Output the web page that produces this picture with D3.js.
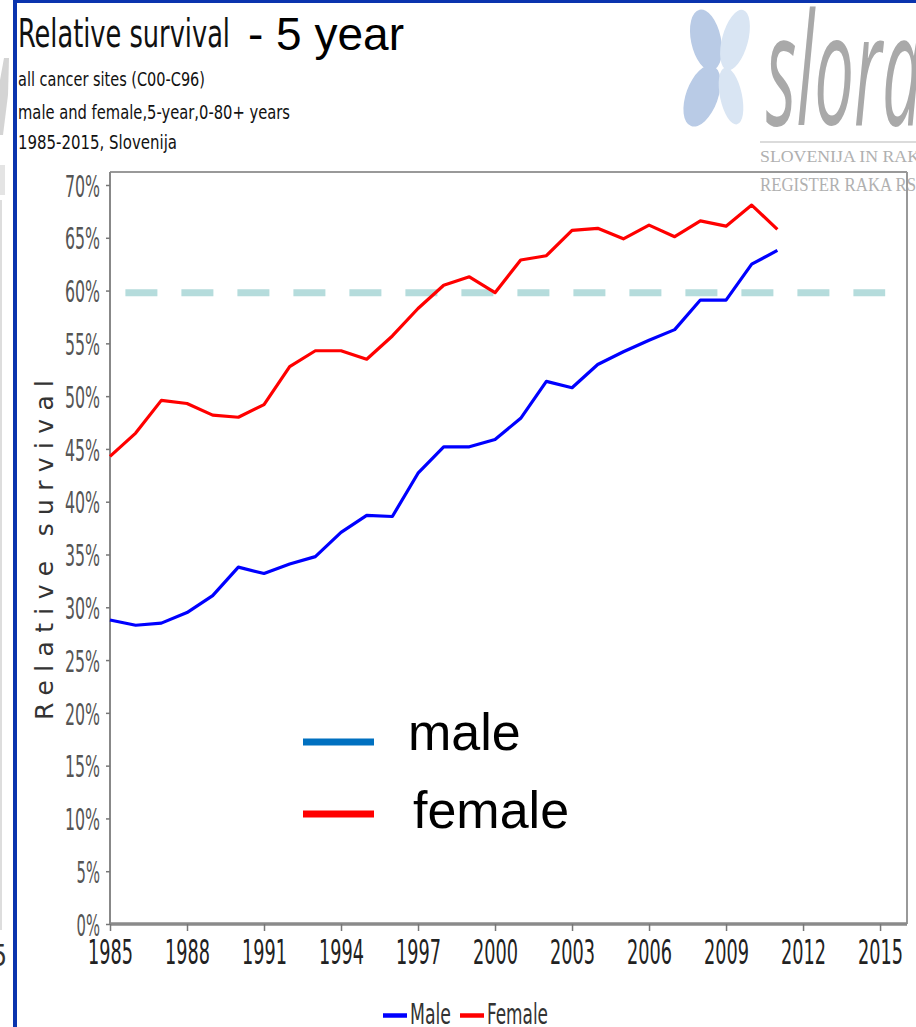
<!DOCTYPE html>
<html>
<head>
<meta charset="utf-8">
<script src="https://cdn.jsdelivr.net/npm/d3@7"></script>
<style>
  html, body { margin: 0; padding: 0; background: #fff; }
  svg { display: block; }
</style>
</head>
<body>
<svg id="chart" width="916" height="1027"></svg>
<script>
// ---------------- DATA ----------------
const years = [1985,1986,1987,1988,1989,1990,1991,1992,1993,1994,1995,1996,1997,1998,1999,2000,2001,2002,2003,2004,2005,2006,2007,2008,2009,2010,2011];
const male   = [28.8,28.3,28.5,29.5,31.1,33.8,33.2,34.1,34.8,37.1,38.7,38.6,42.7,45.2,45.2,45.9,47.9,51.4,50.8,53.0,54.2,55.3,56.3,59.1,59.1,62.5,63.8];
const female = [44.3,46.5,49.6,49.3,48.2,48.0,49.2,52.8,54.3,54.3,53.5,55.7,58.3,60.5,61.3,59.8,62.9,63.3,65.7,65.9,64.9,66.2,65.1,66.6,66.1,68.1,65.8];
const referenceValue = 59.8;
const referenceSpan = [1985.6, 2015.2];
const yTicks = [0,5,10,15,20,25,30,35,40,45,50,55,60,65,70];
const xTicks = [1985,1988,1991,1994,1997,2000,2003,2006,2009,2012,2015];
const titleMain = "Relative survival";
const titleSuffix = "- 5 year";
const subtitles = ["all cancer sites (C00-C96)", "male and female,5-year,0-80+ years", "1985-2015,  Slovenija"];
const yAxisTitle = "Relative survival";
const seriesNames = ["Male", "Female"];
const overlayNames = ["male", "female"];

// ---------------- LAYOUT ----------------
const svg = d3.select("#chart");
const plot = { left: 110, right: 907, top: 172, bottom: 924 };
const x = d3.scaleLinear().domain([1985, 2016.05]).range([plot.left, plot.right]);
const y = d3.scaleLinear().domain([0, 70]).range([plot.bottom, 185]);
const condensed = "'DejaVu Sans Condensed', 'DejaVu Sans', sans-serif";

svg.append("rect").attr("width", 916).attr("height", 1027).attr("fill", "#fff");

// remnants of previous slide at the far left
svg.append("path").attr("d", "M4,58 L9,58 L8,95 L3,135 L0,135 L0,80 Z").attr("fill", "#cfcfcf").attr("opacity", 0.9);
svg.append("rect").attr("x", 0).attr("y", 165).attr("width", 5).attr("height", 30).attr("fill", "#e4e4e4");
svg.append("line").attr("x1", 1).attr("x2", 1).attr("y1", 200).attr("y2", 930).attr("stroke", "#d2d2d2").attr("stroke-width", 1.5);
svg.append("text").attr("x", -8).attr("y", 966).attr("font-family", condensed).attr("font-size", 30)
  .attr("fill", "#333").attr("textLength", 15).attr("lengthAdjust", "spacingAndGlyphs").text("5");

// blue slide frame
svg.append("rect").attr("x", 13).attr("y", 0).attr("width", 4).attr("height", 1027).attr("fill", "#0a34ae");
svg.append("rect").attr("x", 13).attr("y", 0).attr("width", 903).attr("height", 3).attr("fill", "#0a34ae");

// ---------------- LOGO ----------------
const logo = svg.append("g");
logo.append("ellipse").attr("rx", 15).attr("ry", 31)
  .attr("transform", "translate(706,40) rotate(-12)").attr("fill", "#b9cbe6");
logo.append("ellipse").attr("rx", 13).attr("ry", 31)
  .attr("transform", "translate(735,40) rotate(15)").attr("fill", "#d9e5f3");
logo.append("ellipse").attr("rx", 16).attr("ry", 32)
  .attr("transform", "translate(702,96) rotate(20)").attr("fill", "#b9cbe6");
logo.append("ellipse").attr("rx", 11).attr("ry", 29)
  .attr("transform", "translate(731,96) rotate(-12)").attr("fill", "#d9e5f3");
logo.append("text").attr("x", 766).attr("y", 125).attr("font-family", "'Open Sans', sans-serif")
  .attr("font-style", "italic").attr("font-weight", 400).attr("font-size", 156).attr("fill", "#a9a9a9")
  .attr("textLength", 156).attr("lengthAdjust", "spacingAndGlyphs").text("slora");
logo.append("line").attr("x1", 760).attr("x2", 916).attr("y1", 142).attr("y2", 142).attr("stroke", "#cfcfcf").attr("stroke-width", 1.5);
logo.append("text").attr("x", 760).attr("y", 162).attr("font-family", "'Liberation Serif', 'DejaVu Serif', serif")
  .attr("font-size", 17).attr("fill", "#b0b0b0").attr("textLength", 160).attr("lengthAdjust", "spacingAndGlyphs").text("SLOVENIJA IN RAK");
logo.append("text").attr("x", 760).attr("y", 191).attr("font-family", "'Liberation Serif', 'DejaVu Serif', serif")
  .attr("font-size", 19).attr("fill", "#b0b0b0").attr("textLength", 156).attr("lengthAdjust", "spacingAndGlyphs").text("REGISTER RAKA RS");

// ---------------- TITLES ----------------
svg.append("text").attr("x", 18).attr("y", 47).attr("font-family", condensed).attr("font-size", 39)
  .attr("fill", "#111").attr("textLength", 212).attr("lengthAdjust", "spacingAndGlyphs").text(titleMain);
svg.append("text").attr("x", 248).attr("y", 50).attr("font-family", "'Liberation Sans', Arial, sans-serif")
  .attr("font-size", 46).attr("fill", "#000").text(titleSuffix);
const subY = [86, 119, 149];
const subW = [187, 272, 159];
subtitles.forEach((s, i) => {
  svg.append("text").attr("x", 18).attr("y", subY[i]).attr("font-family", condensed).attr("font-size", 20)
    .attr("fill", "#111").attr("textLength", subW[i]).attr("lengthAdjust", "spacingAndGlyphs").text(s);
});

// ---------------- PLOT FRAME ----------------
svg.append("line").attr("x1", plot.left).attr("x2", plot.right).attr("y1", plot.top).attr("y2", plot.top)
  .attr("stroke", "#999").attr("stroke-width", 2);
svg.append("line").attr("x1", plot.right).attr("x2", plot.right).attr("y1", plot.top).attr("y2", plot.bottom)
  .attr("stroke", "#999").attr("stroke-width", 2);

// Y axis
const yAxis = svg.append("g").attr("transform", `translate(${plot.left},0)`)
  .call(d3.axisLeft(y).tickValues(yTicks).tickSize(4).tickPadding(6).tickFormat(d => d + "%"));
yAxis.select(".domain").attr("stroke", "#888").attr("stroke-width", 2).attr("d", `M0,${plot.top}V${plot.bottom}`);
yAxis.selectAll(".tick line").attr("stroke", "#777").attr("stroke-width", 1.5);
yAxis.selectAll(".tick text").attr("font-family", condensed).attr("font-size", 31).attr("fill", "#555")
  .attr("dy", "0.36em")
  .attr("textLength", d => (d + "%").length * 11.7).attr("lengthAdjust", "spacingAndGlyphs");

// X axis
const xAxis = svg.append("g").attr("transform", `translate(0,${plot.bottom})`)
  .call(d3.axisBottom(x).tickValues(xTicks).tickSize(7).tickPadding(10).tickFormat(d3.format("d")));
xAxis.select(".domain").attr("stroke", "#8a8a8a").attr("stroke-width", 3.5).attr("d", `M${plot.left},0H${plot.right}`);
xAxis.selectAll(".tick line").attr("stroke", "#777").attr("stroke-width", 1.5);
xAxis.selectAll(".tick text").attr("font-family", condensed).attr("font-size", 33).attr("fill", "#222")
  .attr("dy", "0.71em").attr("textLength", 45).attr("lengthAdjust", "spacingAndGlyphs");

// Y axis title
svg.append("text").attr("transform", `translate(53,${(380 + 720) / 2}) rotate(-90)`).attr("text-anchor", "middle")
  .attr("font-family", "'DejaVu Sans', sans-serif").attr("font-size", 25).attr("fill", "#333")
  .attr("textLength", 340).attr("lengthAdjust", "spacing").text(yAxisTitle);

// ---------------- REFERENCE LINE ----------------
svg.append("line").attr("x1", x(referenceSpan[0])).attr("x2", x(referenceSpan[1]))
  .attr("y1", y(referenceValue)).attr("y2", y(referenceValue))
  .attr("stroke", "#b5dcdc").attr("stroke-width", 7).attr("stroke-dasharray", "32,24");

// ---------------- SERIES ----------------
const line = d3.line().x((d, i) => x(years[i])).y(d => y(d));
svg.append("path").datum(male).attr("d", line).attr("fill", "none").attr("stroke", "#0000ff")
  .attr("stroke-width", 3.2).attr("stroke-linejoin", "round");
svg.append("path").datum(female).attr("d", line).attr("fill", "none").attr("stroke", "#ff0000")
  .attr("stroke-width", 3.2).attr("stroke-linejoin", "round");

// ---------------- OVERLAY LEGEND ----------------
const overlayColors = ["#0070c0", "#ff0000"];
const overlayLineY = [742, 814];
const overlayTextX = [408, 413];
const overlayTextY = [750, 828];
overlayNames.forEach((n, i) => {
  svg.append("line").attr("x1", 303).attr("x2", 374).attr("y1", overlayLineY[i]).attr("y2", overlayLineY[i])
    .attr("stroke", overlayColors[i]).attr("stroke-width", 7);
  svg.append("text").attr("x", overlayTextX[i]).attr("y", overlayTextY[i])
    .attr("font-family", "'Liberation Sans', Arial, sans-serif").attr("font-size", 52).attr("fill", "#000").text(n);
});

// ---------------- BOTTOM LEGEND ----------------
const legColors = ["#0000ff", "#ff0000"];
const legSwatchX = [383, 460];
const legTextX = [410, 487];
const legTextW = [41, 61];
seriesNames.forEach((n, i) => {
  svg.append("line").attr("x1", legSwatchX[i]).attr("x2", legSwatchX[i] + 24).attr("y1", 1015.5).attr("y2", 1015.5)
    .attr("stroke", legColors[i]).attr("stroke-width", 4.5);
  svg.append("text").attr("x", legTextX[i]).attr("y", 1024).attr("font-family", condensed).attr("font-size", 29)
    .attr("fill", "#333").attr("textLength", legTextW[i]).attr("lengthAdjust", "spacingAndGlyphs").text(n);
});
</script>
</body>
</html>
